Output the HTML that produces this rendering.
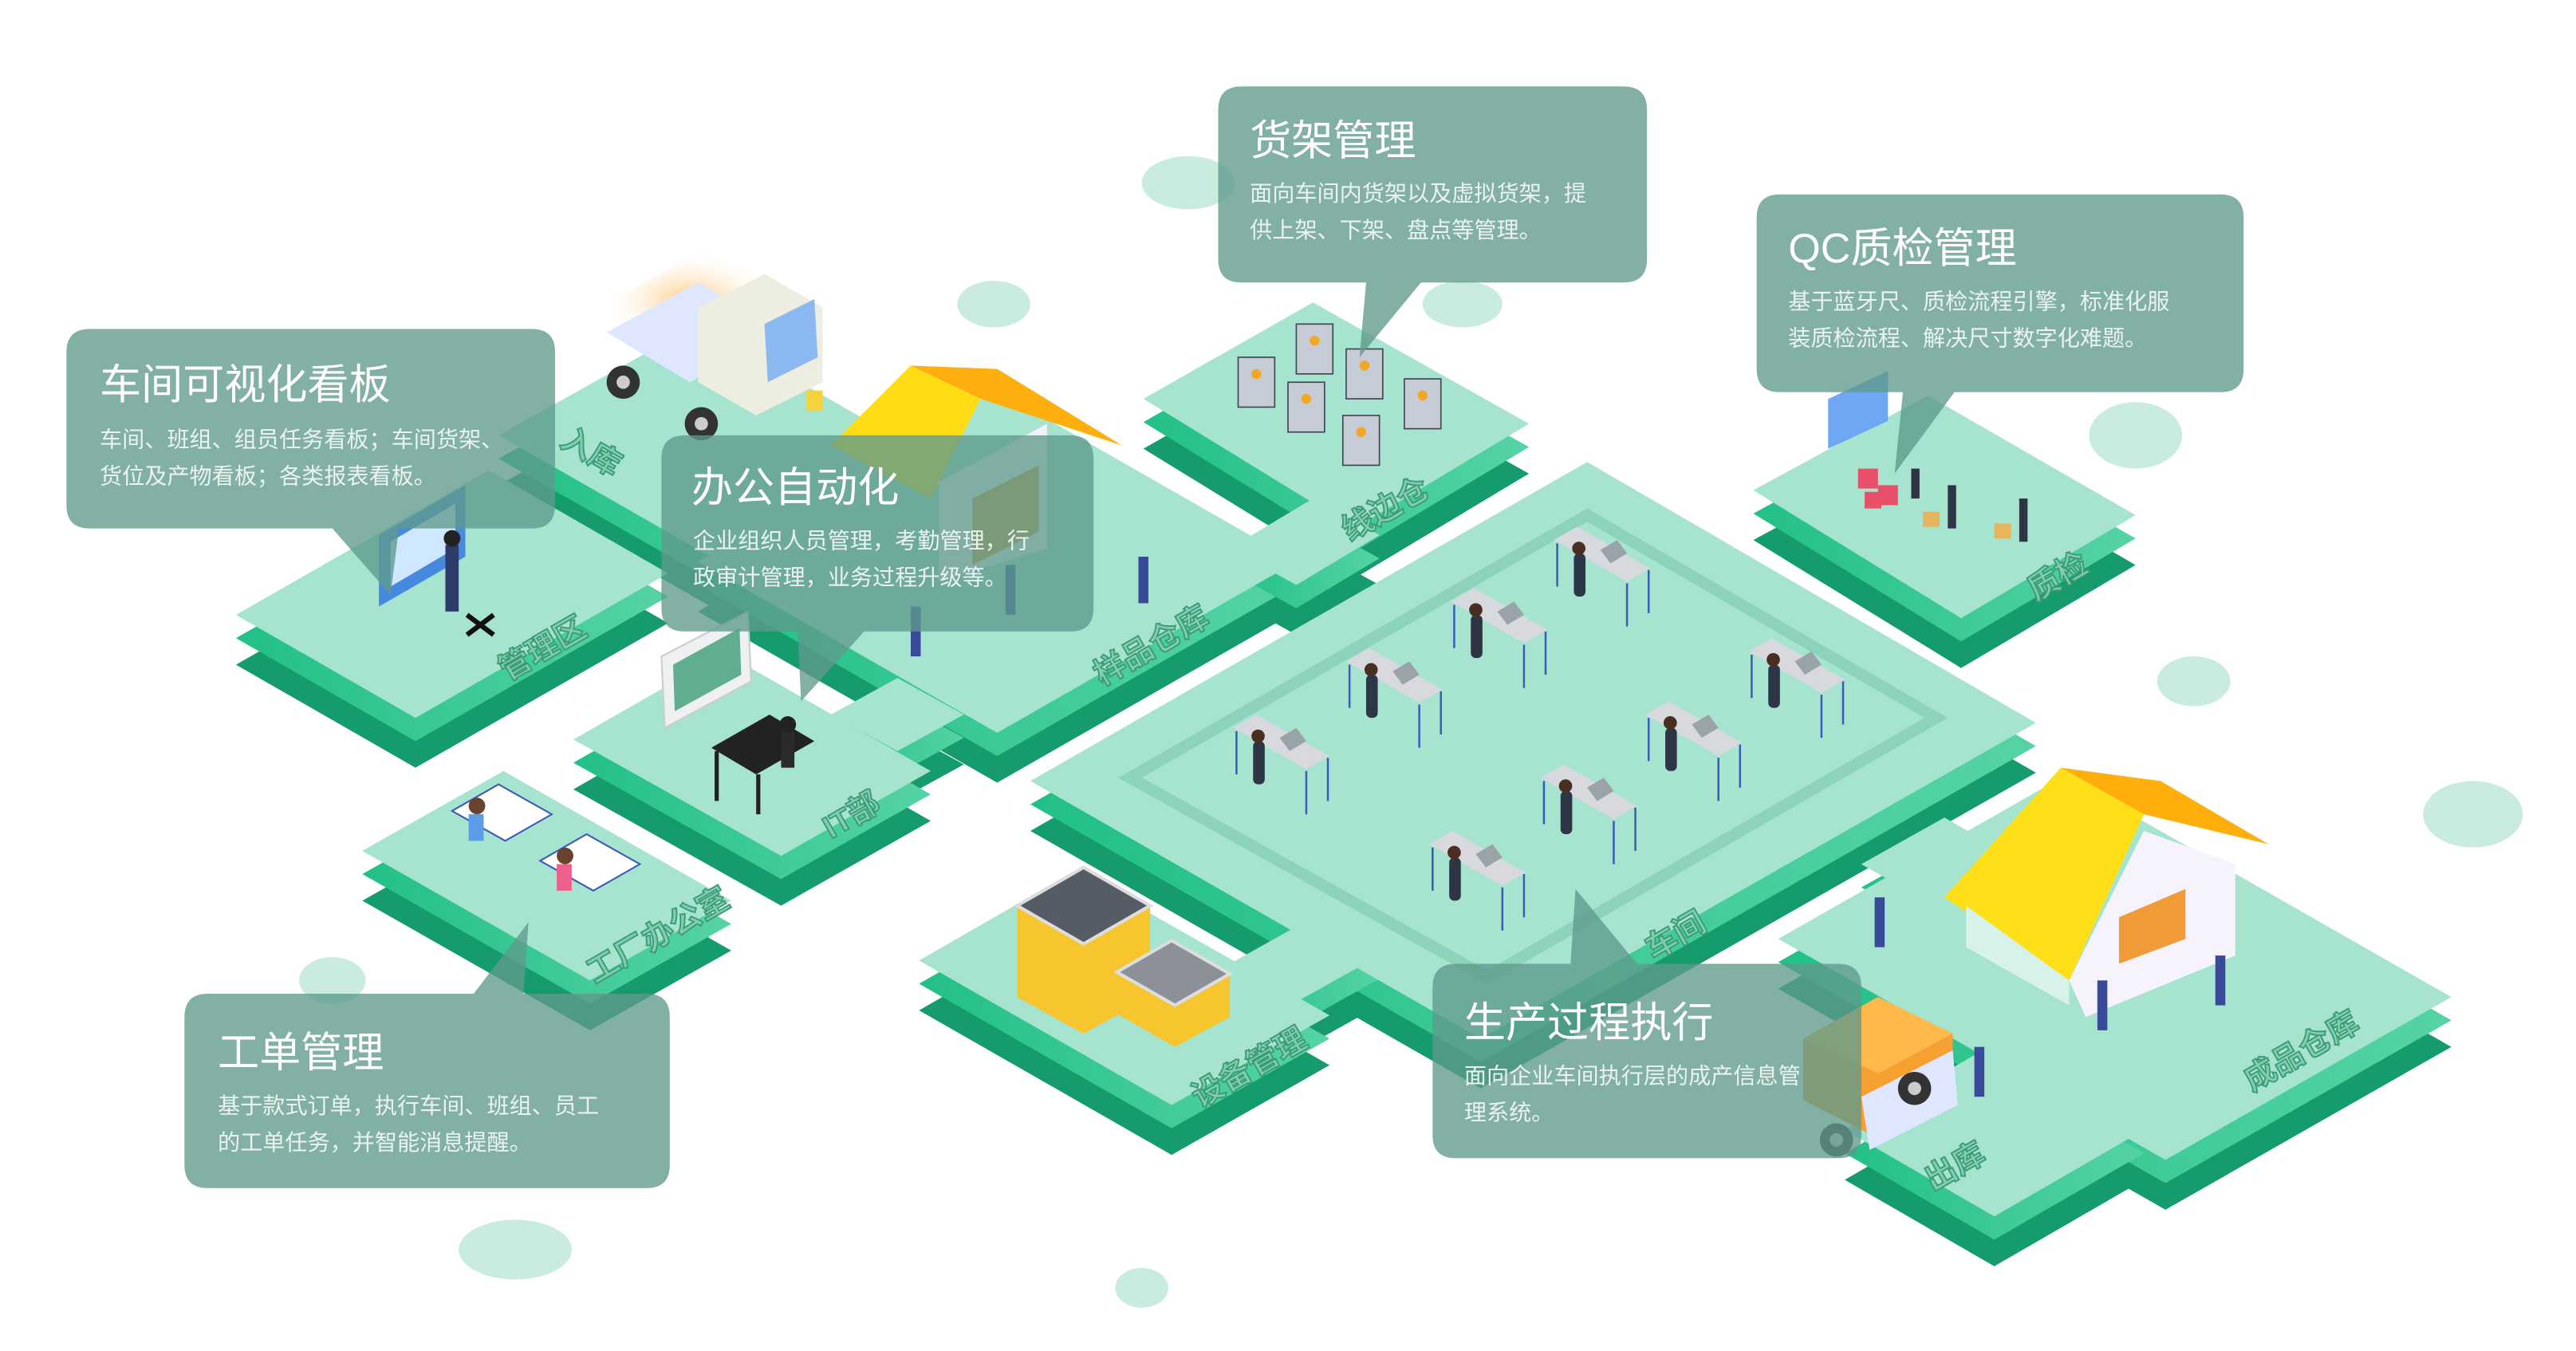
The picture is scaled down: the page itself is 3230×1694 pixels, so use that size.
<!DOCTYPE html>
<html><head><meta charset="utf-8"><style>
html,body{margin:0;padding:0;background:#fff;}
svg{display:block;}
text{font-family:"Liberation Sans","Noto Sans CJK SC",sans-serif;}
</style></head><body>
<svg width="3230" height="1694" viewBox="0 0 1550 813" preserveAspectRatio="none" xmlns="http://www.w3.org/2000/svg">
<defs>
<polygon id="p1" points="142,370 294,283 402,345 250,432"/>
<polygon id="p2" points="300,262 420,195 560,275 440,342"/>
<polygon id="p3" points="420,338 600,235 780,338 600,441"/>
<polygon id="p4" points="345,445 436,393 560,464 470,515"/>
<polygon id="p5" points="218,512 303,464 440,542 355,590"/>
<polygon id="p6" points="688,240 790,182 920,255 815,318"/>
<polygon id="p7" points="620,470 955,278 1225,435 891,625"/>
<polygon id="p8" points="1055,295 1160,238 1285,310 1180,372"/>
<polygon id="p9" points="553,578 647,524 800,611 705,665"/>
<polygon id="p10" points="1070,565 1242,467 1475,600 1303,698"/>
<polygon id="p11" points="1110,680 1200,628 1290,680 1200,732"/>
<polygon id="p12" points="740,330 790,300 830,322 780,352"/>
<polygon id="p13" points="1090,300 1130,278 1160,300 1120,322"/>
<polygon id="p14" points="500,430 540,408 580,430 540,452"/>
<polygon id="p15" points="1120,520 1170,492 1210,515 1160,543"/>
<polygon id="p16" points="740,580 790,552 830,575 780,603"/>
<g id="ws">
<polygon points="0,0 14,-8 58,17 44,25" fill="#d7d9de"/>
<polygon points="28,6 38,0 44,8 34,14" fill="#9aa3a8"/>
<line x1="2" y1="2" x2="2" y2="28" stroke="#3a5bb8" stroke-width="1.2"/>
<line x1="44" y1="26" x2="44" y2="52" stroke="#3a5bb8" stroke-width="1.2"/>
<line x1="57" y1="18" x2="57" y2="44" stroke="#3a5bb8" stroke-width="1.2"/>
<rect x="12" y="8" width="7" height="26" rx="3" fill="#2e3545"/>
<circle cx="15" cy="5" r="4" fill="#4a2e22"/>
</g>
<linearGradient id="side" x1="0" y1="0" x2="1" y2="0"><stop offset="0" stop-color="#22c087"/><stop offset="1" stop-color="#55d3a5"/></linearGradient>
<radialGradient id="glow" cx="0.5" cy="0.5" r="0.5"><stop offset="0" stop-color="#ffb347" stop-opacity="0.7"/><stop offset="1" stop-color="#fff" stop-opacity="0"/></radialGradient>
</defs>

<g fill="#c9ecdf">
<ellipse cx="715" cy="110" rx="28" ry="16"/><ellipse cx="598" cy="183" rx="22" ry="14"/>
<ellipse cx="880" cy="183" rx="24" ry="14"/><ellipse cx="1285" cy="262" rx="28" ry="20"/>
<ellipse cx="1320" cy="410" rx="22" ry="15"/><ellipse cx="1488" cy="490" rx="30" ry="20"/>
<ellipse cx="200" cy="590" rx="20" ry="14"/><ellipse cx="310" cy="752" rx="34" ry="18"/>
<ellipse cx="687" cy="775" rx="16" ry="12"/>
</g>

<g fill="#159b6c">
<use href="#p1" transform="translate(0,30)"/><use href="#p2" transform="translate(0,30)"/>
<use href="#p3" transform="translate(0,30)"/><use href="#p4" transform="translate(0,30)"/>
<use href="#p5" transform="translate(0,30)"/><use href="#p6" transform="translate(0,30)"/>
<use href="#p7" transform="translate(0,30)"/><use href="#p8" transform="translate(0,30)"/>
<use href="#p9" transform="translate(0,30)"/><use href="#p10" transform="translate(0,30)"/>
<use href="#p11" transform="translate(0,30)"/>
<use href="#p12" transform="translate(0,30)"/><use href="#p13" transform="translate(0,30)"/>
<use href="#p14" transform="translate(0,30)"/><use href="#p15" transform="translate(0,30)"/>
<use href="#p16" transform="translate(0,30)"/>
</g>
<g fill="url(#side)">
<use href="#p1" transform="translate(0,14)"/><use href="#p2" transform="translate(0,14)"/>
<use href="#p3" transform="translate(0,14)"/><use href="#p4" transform="translate(0,14)"/>
<use href="#p5" transform="translate(0,14)"/><use href="#p6" transform="translate(0,14)"/>
<use href="#p7" transform="translate(0,14)"/><use href="#p8" transform="translate(0,14)"/>
<use href="#p9" transform="translate(0,14)"/><use href="#p10" transform="translate(0,14)"/>
<use href="#p11" transform="translate(0,14)"/>
<use href="#p12" transform="translate(0,14)"/><use href="#p13" transform="translate(0,14)"/>
<use href="#p14" transform="translate(0,14)"/><use href="#p15" transform="translate(0,14)"/>
<use href="#p16" transform="translate(0,14)"/>
</g>
<g fill="#a6e4cf">
<use href="#p1"/><use href="#p2"/><use href="#p3"/><use href="#p4"/><use href="#p5"/>
<use href="#p6"/><use href="#p7"/><use href="#p8"/><use href="#p9"/><use href="#p10"/><use href="#p11"/>
<use href="#p12"/><use href="#p13"/><use href="#p14"/><use href="#p15"/><use href="#p16"/>
</g>

<polygon points="680,468 955,310 1165,432 895,588" fill="none" stroke="#8dd3bc" stroke-width="7"/>

<use href="#ws" x="935" y="325"/><use href="#ws" x="873" y="362"/><use href="#ws" x="810" y="398"/>
<use href="#ws" x="742" y="438"/><use href="#ws" x="1052" y="392"/><use href="#ws" x="990" y="430"/>
<use href="#ws" x="927" y="468"/><use href="#ws" x="860" y="508"/>

<g fill="#c6ccd6" stroke="#445" stroke-width="0.8">
<rect x="745" y="215" width="22" height="30"/><rect x="780" y="195" width="22" height="30"/>
<rect x="810" y="210" width="22" height="30"/><rect x="775" y="230" width="22" height="30"/>
<rect x="845" y="228" width="22" height="30"/><rect x="808" y="250" width="22" height="30"/>
</g>
<g fill="#f5a623"><circle cx="756" cy="225" r="3"/><circle cx="791" cy="205" r="3"/><circle cx="821" cy="220" r="3"/><circle cx="786" cy="240" r="3"/><circle cx="856" cy="238" r="3"/><circle cx="819" cy="260" r="3"/></g>

<rect x="1100" y="243" width="36" height="30" fill="#6fa8f2" transform="skewY(-25) translate(0,510)"/>
<g fill="#e8506a"><rect x="1118" y="282" width="12" height="12"/><rect x="1130" y="292" width="12" height="12"/><rect x="1122" y="296" width="10" height="10"/></g>
<g fill="#2e3545"><rect x="1172" y="292" width="5" height="26"/><rect x="1215" y="300" width="5" height="26"/><rect x="1150" y="282" width="5" height="18"/></g>
<g fill="#e6b45c"><rect x="1157" y="308" width="10" height="9"/><rect x="1200" y="315" width="10" height="9"/></g>

<polygon points="228,322 280,292 280,335 228,365" fill="#3b7fe0" opacity="0.9"/>
<polygon points="235,326 274,303 274,330 235,353" fill="#cfe8ff"/>
<rect x="268" y="328" width="8" height="40" fill="#2d3a6a"/>
<circle cx="272" cy="324" r="5" fill="#222"/>
<line x1="281" y1="370" x2="297" y2="382" stroke="#111" stroke-width="3"/><line x1="297" y1="370" x2="281" y2="382" stroke="#111" stroke-width="3"/>

<polygon points="360,185 425,150 470,175 405,212" fill="url(#glow)"/>
<polygon points="365,200 420,170 470,198 415,230" fill="#dfe6ff"/>
<polygon points="420,185 460,165 495,185 495,230 455,250 420,230" fill="#eeede2"/>
<polygon points="460,195 490,180 492,215 462,230" fill="#8bb8f0"/>
<circle cx="375" cy="230" r="10" fill="#333"/><circle cx="375" cy="230" r="4" fill="#ccc"/>
<circle cx="422" cy="255" r="10" fill="#333"/><circle cx="422" cy="255" r="4" fill="#ccc"/>
<rect x="485" y="235" width="10" height="12" fill="#f5d33c"/>

<polygon points="500,268 548,220 590,240 560,300" fill="#ffdd15"/>
<polygon points="548,220 600,222 675,268 590,240" fill="#ffaf0d"/>
<polygon points="565,290 630,255 630,330 565,350" fill="#f3f0fa"/>
<polygon points="585,300 625,280 625,320 585,340" fill="#d89b3c"/>

<polygon points="398,395 450,368 452,410 400,438" fill="#eef0f2" stroke="#ccc"/>
<polygon points="405,400 445,378 446,406 406,428" fill="#5fae8e"/>
<polygon points="428,450 463,430 490,446 455,466" fill="#222"/>
<rect x="430" y="452" width="2.5" height="30" fill="#222"/><rect x="455" y="466" width="2.5" height="24" fill="#222"/>
<rect x="470" y="440" width="8" height="22" fill="#2a2a2a"/><circle cx="474" cy="436" r="5" fill="#222"/>

<polygon points="272,488 300,472 332,490 304,506" fill="#fff" stroke="#3a5bb8"/>
<polygon points="325,518 353,502 385,520 357,536" fill="#fff" stroke="#3a5bb8"/>
<rect x="282" y="490" width="9" height="16" fill="#5b9de8"/><circle cx="287" cy="485" r="5" fill="#6a4330"/>
<rect x="335" y="520" width="9" height="16" fill="#ee5f8b"/><circle cx="340" cy="515" r="5" fill="#6a4330"/>

<polygon points="612,545 652,522 692,545 692,600 652,622 612,600" fill="#f7c52e"/>
<polygon points="612,545 652,522 692,545 652,568" fill="#555c66" stroke="#ddd" stroke-width="2"/>
<polygon points="672,585 705,566 740,586 740,612 707,630 672,610" fill="#f7c52e"/>
<polygon points="672,585 705,566 740,586 707,605" fill="#8b9099" stroke="#ddd" stroke-width="2"/>

<polygon points="1170,540 1240,462 1290,490 1245,590" fill="#ffdf17"/>
<polygon points="1240,462 1300,470 1365,508 1290,490" fill="#ffae0c"/>
<polygon points="1183,545 1245,590 1245,605 1183,570" fill="#d7f2e9"/>
<polygon points="1245,590 1290,500 1345,520 1345,575 1255,612" fill="#f6f3fc"/>
<polygon points="1275,552 1315,535 1315,565 1275,580" fill="#f19a38"/>
<g fill="#3a4a9a"><rect x="1128" y="540" width="6" height="30"/><rect x="1262" y="590" width="6" height="30"/><rect x="1333" y="575" width="6" height="30"/><rect x="1188" y="630" width="6" height="30"/><rect x="685" y="335" width="6" height="28"/><rect x="548" y="365" width="6" height="30"/><rect x="605" y="340" width="6" height="30"/></g>

<polygon points="1085,625 1130,600 1175,622 1175,660 1130,685 1085,662" fill="#f6a032"/>
<polygon points="1085,625 1130,600 1175,622 1130,646" fill="#ffb84a"/>
<polygon points="1120,660 1175,632 1178,665 1125,692" fill="#dfe6ff"/>
<circle cx="1152" cy="655" r="10" fill="#333"/><circle cx="1152" cy="655" r="4" fill="#ccc"/>
<circle cx="1105" cy="686" r="10" fill="#333"/><circle cx="1105" cy="686" r="4" fill="#ccc"/>

<g font-weight="bold" font-size="19" fill="#7fcfae" stroke="#3c9a78" stroke-width="0.9">
<text transform="translate(336,268) rotate(30)">入库</text>
<text transform="translate(305,410) rotate(-30)">管理区</text>
<text transform="translate(500,505) rotate(-30)">IT部</text>
<text transform="translate(358,592) rotate(-30)">工厂办公室</text>
<text transform="translate(663,413) rotate(-30)">样品仓库</text>
<text transform="translate(812,326) rotate(-30)">线边仓</text>
<text transform="translate(1225,362) rotate(-30)">质检</text>
<text transform="translate(995,578) rotate(-30)">车间</text>
<text transform="translate(722,667) rotate(-30)">设备管理</text>
<text transform="translate(1163,717) rotate(-30)">出库</text>
<text transform="translate(1355,657) rotate(-30)">成品仓库</text>
</g>

<g fill="#5f9a8c" fill-opacity="0.78">
<path d="M54,198 H320 Q334,198 334,212 V304 Q334,318 320,318 H240 L235,358 L200,318 H54 Q40,318 40,304 V212 Q40,198 54,198 Z"/>
<path d="M412,262 H644 Q658,262 658,276 V366 Q658,380 644,380 H520 L482,422 L480,380 H412 Q398,380 398,366 V276 Q398,262 412,262 Z"/>
<path d="M747,52 H977 Q991,52 991,66 V156 Q991,170 977,170 H855 L818,215 L822,170 H747 Q733,170 733,156 V66 Q733,52 747,52 Z"/>
<path d="M1071,117 H1336 Q1350,117 1350,131 V222 Q1350,236 1336,236 H1176 L1140,285 L1145,236 H1071 Q1057,236 1057,222 V131 Q1057,117 1071,117 Z"/>
<path d="M125,598 H285 L318,555 L315,598 H389 Q403,598 403,612 V701 Q403,715 389,715 H125 Q111,715 111,701 V612 Q111,598 125,598 Z"/>
<path d="M876,580 H945 L948,535 L985,580 H1106 Q1120,580 1120,594 V683 Q1120,697 1106,697 H876 Q862,697 862,683 V594 Q862,580 876,580 Z"/>
</g>
<g fill="#fff">
<text x="60" y="240" font-size="25">车间可视化看板</text>
<text x="60" y="269" font-size="13.5" fill="#eaf3f0">车间、班组、组员任务看板；车间货架、</text>
<text x="60" y="291" font-size="13.5" fill="#eaf3f0">货位及产物看板；各类报表看板。</text>
<text x="416" y="302" font-size="25">办公自动化</text>
<text x="417" y="330" font-size="13.5" fill="#eaf3f0">企业组织人员管理，考勤管理，行</text>
<text x="417" y="352" font-size="13.5" fill="#eaf3f0">政审计管理，业务过程升级等。</text>
<text x="752" y="93" font-size="25">货架管理</text>
<text x="752" y="121" font-size="13.5" fill="#eaf3f0">面向车间内货架以及虚拟货架，提</text>
<text x="752" y="143" font-size="13.5" fill="#eaf3f0">供上架、下架、盘点等管理。</text>
<text x="1076" y="158" font-size="25">QC质检管理</text>
<text x="1076" y="186" font-size="13.5" fill="#eaf3f0">基于蓝牙尺、质检流程引擎，标准化服</text>
<text x="1076" y="208" font-size="13.5" fill="#eaf3f0">装质检流程、解决尺寸数字化难题。</text>
<text x="131" y="642" font-size="25">工单管理</text>
<text x="131" y="670" font-size="13.5" fill="#eaf3f0">基于款式订单，执行车间、班组、员工</text>
<text x="131" y="692" font-size="13.5" fill="#eaf3f0">的工单任务，并智能消息提醒。</text>
<text x="881" y="624" font-size="25">生产过程执行</text>
<text x="881" y="652" font-size="13.5" fill="#eaf3f0">面向企业车间执行层的成产信息管</text>
<text x="881" y="674" font-size="13.5" fill="#eaf3f0">理系统。</text>
</g>
</svg>
</body></html>
